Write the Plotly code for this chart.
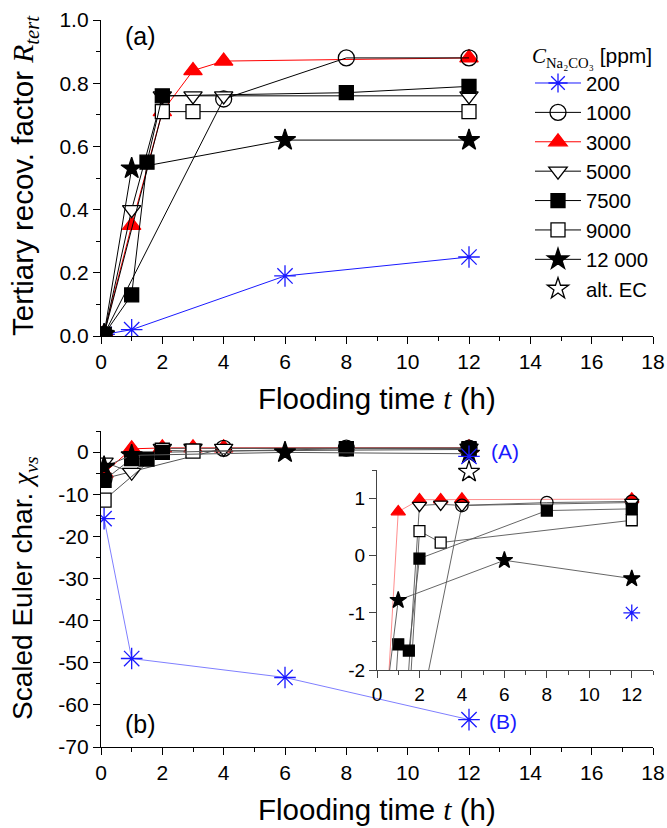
import plotly.graph_objects as go

# ---------------- data ----------------
concentrations = ["200", "1000", "3000", "5000", "7500", "9000", "12 000"]

t_200 = [0.1, 1, 6, 12]
R_200 = [0.005, 0.02, 0.19, 0.25]
chi_200 = [-15.8, -49.0, -53.5, -63.5]
t_200_A = [12]
chi_200_A = [-1.0]

t_1000 = [0.1, 4, 8, 12]
R_1000 = [0.005, 0.75, 0.88, 0.88]
chi_1000 = [-6.3, 0.88, 0.93, 0.95]

t_3000 = [0.1, 1, 2, 3, 4, 12]
R_3000 = [0.01, 0.35, 0.71, 0.84, 0.87, 0.88]
chi_3000 = [-5.0, 0.77, 0.98, 0.98, 0.99, 0.99]

t_5000 = [0.1, 1, 2, 3, 4, 12]
R_5000 = [0.005, 0.40, 0.76, 0.76, 0.76, 0.76]
chi_5000 = [-2.4, -4.8, 0.88, 0.90, 0.88, 0.93]

t_7500 = [0.1, 1, 1.5, 2, 8, 12]
R_7500 = [0.005, 0.13, 0.55, 0.76, 0.77, 0.79]
chi_7500 = [-6.7, -1.55, -1.66, -0.05, 0.79, 0.82]

t_9000 = [0.1, 2, 3, 12]
R_9000 = [0.005, 0.71, 0.71, 0.71]
chi_9000 = [-11.4, 0.43, 0.23, 0.62]

t_12000 = [0.1, 1, 6, 12]
R_12000 = [0.005, 0.53, 0.62, 0.62]
chi_12000 = [-3.5, -0.78, -0.08, -0.40]

t_altEC = [12]
chi_altEC = [-4.7]

x_ticks = [0, 2, 4, 6, 8, 10, 12, 14, 16, 18]
R_ticks = [0.0, 0.2, 0.4, 0.6, 0.8, 1.0]
R_ticklabels = ["0.0", "0.2", "0.4", "0.6", "0.8", "1.0"]
chi_ticks = [-70, -60, -50, -40, -30, -20, -10, 0]
chi_ticklabels = ["-70", "-60", "-50", "-40", "-30", "-20", "-10", "0"]
inset_x_ticks = [0, 2, 4, 6, 8, 10, 12]
inset_y_ticks = [-2, -1, 0, 1]
inset_y_ticklabels = ["-2", "-1", "0", "1"]

# ---------------- styles ----------------
W, H = 667, 828
FONT = "Liberation Sans, Arial, sans-serif"
BLUE = "#1a1aff"
RED = "#ff0000"

series = [
    # name, t, R, chi, symbol, fill, edge, linecolor, size, rank
    ("200", t_200, R_200, chi_200, "asterisk-open", BLUE, BLUE, BLUE, 18, 1),
    ("3000", t_3000, R_3000, chi_3000, "triangle-up", RED, RED, RED, 16, 3),
    ("1000", t_1000, R_1000, chi_1000, "circle-open", "black", "black", "black", 16, 2),
    ("5000", t_5000, R_5000, chi_5000, "triangle-down", "white", "black", "black", 16, 4),
    ("9000", t_9000, R_9000, chi_9000, "square", "white", "black", "black", 14, 6),
    ("7500", t_7500, R_7500, chi_7500, "square", "black", "black", "black", 14, 5),
    ("12 000", t_12000, R_12000, chi_12000, "star", "black", "black", "black", 16, 7),
]

fig = go.Figure()

def add(name, t, v, sym, fill, edge, lcol, size, rank, xa, ya, show, lw, lc=None):
    fig.add_trace(go.Scatter(
        x=t, y=v, mode="lines+markers", name=name, legendrank=rank,
        showlegend=show, xaxis=xa, yaxis=ya,
        line=dict(color=lc if lc else lcol, width=lw),
        marker=dict(symbol=sym, size=size, color=fill,
                    line=dict(color=edge, width=1.3)),
    ))

for (name, t, R, chi, sym, fill, edge, lcol, size, rank) in series:
    add(name, t, R, sym, fill, edge, lcol, size, rank, "x", "y", True, 1.0)
for (name, t, R, chi, sym, fill, edge, lcol, size, rank) in series:
    lc = lcol if lcol != "black" else "#555555"
    if name == "200":
        lc = "#7f7fff"
    add(name, t, chi, sym, fill, edge, lcol, size, rank, "x2", "y2", False, 1.0, lc)
for (name, t, R, chi, sym, fill, edge, lcol, size, rank) in series:
    lc = lcol if lcol != "black" else "#555555"
    if name == "3000":
        lc = "#ff8080"
    add(name, t, chi, sym, fill, edge, lcol, size * 0.78, rank, "x3", "y3", False, 0.9, lc)

# 200 ppm point (A), markers only
for xa, ya, s in (("x2", "y2", 18), ("x3", "y3", 14)):
    fig.add_trace(go.Scatter(x=t_200_A, y=chi_200_A, mode="markers", showlegend=False,
                             xaxis=xa, yaxis=ya,
                             marker=dict(symbol="asterisk-open", size=s, color=BLUE,
                                         line=dict(color=BLUE, width=1.3))))
# alternative EC
fig.add_trace(go.Scatter(x=t_altEC, y=chi_altEC, mode="markers", name="alt. EC",
                         legendrank=8, xaxis="x2", yaxis="y2",
                         marker=dict(symbol="star", size=16, color="white",
                                     line=dict(color="black", width=1.3))))

def px_x(p):
    return p / W

def px_y(p):
    return 1 - p / H

axis_common = dict(showline=True, linecolor="black", linewidth=1.3, ticks="outside",
                   ticklen=7, tickwidth=1.3, tickcolor="black", showgrid=False,
                   zeroline=False, mirror=False,
                   tickfont=dict(family=FONT, size=21, color="black"),
                   minor=dict(ticks="outside", ticklen=4, tickwidth=1.2, tickcolor="black"))

fig.update_layout(
    width=W, height=H, margin=dict(l=0, r=0, t=0, b=0, autoexpand=False),
    paper_bgcolor="white", plot_bgcolor="rgba(0,0,0,0)",
    font=dict(family=FONT, color="black"),
    xaxis=dict(axis_common, domain=[px_x(101), px_x(653)], range=[0, 18],
               tickvals=x_ticks, anchor="y", minor=dict(axis_common["minor"], dtick=1)),
    yaxis=dict(axis_common, domain=[px_y(336), px_y(20)], range=[0, 1],
               tickvals=R_ticks, ticktext=R_ticklabels, anchor="x",
               minor=dict(axis_common["minor"], dtick=0.1)),
    xaxis2=dict(axis_common, domain=[px_x(101), px_x(653)], range=[0, 18],
                tickvals=x_ticks, anchor="y2", minor=dict(axis_common["minor"], dtick=1)),
    yaxis2=dict(axis_common, domain=[px_y(747), px_y(431)], range=[-70, 5],
                tickvals=chi_ticks, ticktext=chi_ticklabels, anchor="x2",
                minor=dict(axis_common["minor"], dtick=5)),
    xaxis3=dict(axis_common, domain=[px_x(377), px_x(653)], range=[0, 13],
                tickvals=inset_x_ticks, anchor="y3",
                tickfont=dict(family=FONT, size=19, color="black"),
                linecolor="#444", tickcolor="#444", linewidth=1.1,
                minor=dict(axis_common["minor"], dtick=1, tickcolor="#444")),
    yaxis3=dict(axis_common, domain=[px_y(670), px_y(470)], range=[-2, 1.5],
                tickvals=inset_y_ticks, ticktext=inset_y_ticklabels, anchor="x3",
                tickfont=dict(family=FONT, size=19, color="black"),
                linecolor="#444", tickcolor="#444", linewidth=1.1,
                minor=dict(axis_common["minor"], dtick=0.5, tickcolor="#444")),
    legend=dict(
        x=px_x(530), y=px_y(36), xanchor="left", yanchor="top",
        bgcolor="rgba(0,0,0,0)", font=dict(family=FONT, size=20.3, color="black"),
        itemwidth=46, tracegroupgap=0,
        title=dict(text='<span style="font-family:Liberation Serif"><i>C</i><sub>Na₂CO₃</sub></span> [ppm]',
                   font=dict(family=FONT, size=21, color="black")),
    ),
)

ann = [
    dict(text='Flooding time <span style="font-family:Liberation Serif"><i>t</i></span> (h)',
         x=px_x(377), y=px_y(399), size=29.5),
    dict(text='Flooding time <span style="font-family:Liberation Serif"><i>t</i></span> (h)',
         x=px_x(377), y=px_y(809), size=29.5),
    dict(text='Tertiary recov. factor <span style="font-family:Liberation Serif"><i>R</i><sub><i>tert</i></sub></span>',
         x=px_x(24), y=px_y(176), textangle=-90, size=29.5),
    dict(text='Scaled Euler char. <span style="font-family:Liberation Serif"><i>χ</i><sub><i>vs</i></sub></span>',
         x=px_x(24), y=px_y(588), textangle=-90, size=28),
]
for a in ann:
    sz = a.pop("size")
    fig.add_annotation(xref="paper", yref="paper", showarrow=False, xanchor="center",
                       yanchor="middle", font=dict(family=FONT, size=sz, color="black"), **a)

for txt, x, y, col, sz in (("(a)", 140, 36, "black", 25), ("(b)", 140, 724, "black", 25),
                           ("(A)", 505, 451, BLUE, 21), ("(B)", 503, 721, BLUE, 21)):
    fig.add_annotation(xref="paper", yref="paper", showarrow=False, text=txt,
                       x=px_x(x), y=px_y(y), xanchor="center", yanchor="middle",
                       font=dict(family=FONT, size=sz, color=col))

fig.write_html("out.html", config={"displayModeBar": False},
               post_script="document.body.style.margin='0px';")
